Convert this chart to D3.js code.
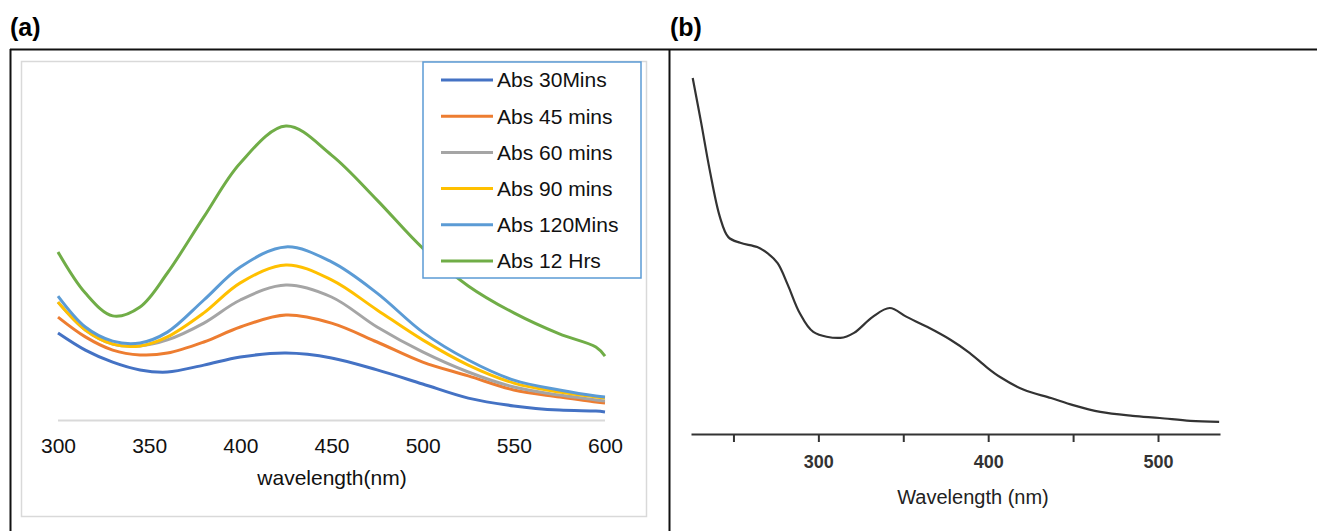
<!DOCTYPE html>
<html lang="en">
<head>
<meta charset="utf-8">
<style>
body { margin: 0; background: #fff; }
svg { display: block; font-family: "Liberation Sans", Arial, sans-serif; }
.axisA .domain { display: none; }
.axisA line { display: none; }
</style>
</head>
<body>
<svg width="1317" height="531"></svg>
<script src="https://d3js.org/d3.v7.min.js"></script>
<script>
// panel (a) data: absorbance vs wavelength for each reaction time
var wavelengthsA = [300, 315, 330, 345, 360, 380, 400, 425, 450, 475, 500, 525, 550, 575, 595, 600];
var abs30min  = [0.290, 0.233, 0.193, 0.167, 0.160, 0.183, 0.210, 0.223, 0.207, 0.167, 0.120, 0.073, 0.047, 0.033, 0.030, 0.027];
var abs45min  = [0.343, 0.277, 0.233, 0.217, 0.223, 0.260, 0.310, 0.350, 0.323, 0.260, 0.193, 0.147, 0.100, 0.077, 0.060, 0.057];
var abs60min  = [0.393, 0.300, 0.253, 0.247, 0.267, 0.323, 0.400, 0.450, 0.410, 0.310, 0.227, 0.160, 0.110, 0.083, 0.067, 0.063];
var abs90min  = [0.393, 0.300, 0.253, 0.247, 0.277, 0.357, 0.457, 0.517, 0.467, 0.367, 0.267, 0.183, 0.123, 0.093, 0.077, 0.073];
var abs120min = [0.413, 0.310, 0.263, 0.257, 0.293, 0.400, 0.510, 0.577, 0.527, 0.423, 0.293, 0.200, 0.133, 0.100, 0.080, 0.077];
var abs12hrs  = [0.560, 0.423, 0.347, 0.377, 0.490, 0.677, 0.857, 0.980, 0.883, 0.733, 0.573, 0.447, 0.357, 0.287, 0.243, 0.213];
var seriesNames = ["Abs 30Mins", "Abs 45 mins", "Abs 60 mins", "Abs 90 mins", "Abs 120Mins", "Abs 12 Hrs"];
var seriesColors = ["#4472c4", "#ed7d31", "#a5a5a5", "#ffc000", "#5b9bd5", "#70ad47"];
var ticksA = [300, 350, 400, 450, 500, 550, 600];

// panel (b) data
var wavelengthsB = [226, 231, 236, 242, 247, 254, 264, 270, 276, 282, 289, 297, 313, 321, 332, 342, 352, 364, 378, 389, 399, 407, 421, 437, 450, 466, 485, 501, 519, 536];
var absB = [1.000, 0.874, 0.742, 0.610, 0.553, 0.537, 0.525, 0.508, 0.480, 0.419, 0.340, 0.287, 0.270, 0.284, 0.329, 0.354, 0.329, 0.301, 0.264, 0.228, 0.188, 0.160, 0.124, 0.101, 0.081, 0.062, 0.051, 0.045, 0.037, 0.034];
var majorTicksB = [300, 400, 500];
var allTicksB = [250, 300, 350, 400, 450, 500];

var svg = d3.select("svg");

// frame lines
svg.append("line").attr("x1", 10).attr("x2", 1317).attr("y1", 49.5).attr("y2", 49.5)
  .attr("stroke", "#111").attr("stroke-width", 2);
svg.append("line").attr("x1", 10.5).attr("x2", 10.5).attr("y1", 49).attr("y2", 531)
  .attr("stroke", "#111").attr("stroke-width", 2);
svg.append("line").attr("x1", 669.5).attr("x2", 669.5).attr("y1", 49).attr("y2", 531)
  .attr("stroke", "#111").attr("stroke-width", 2);

svg.append("text").attr("x", 10).attr("y", 36).attr("font-size", 25).attr("font-weight", "bold").text("(a)");
svg.append("text").attr("x", 670).attr("y", 36).attr("font-size", 25).attr("font-weight", "bold").text("(b)");

// ---- panel (a) ----
svg.append("rect").attr("x", 21.5).attr("y", 61.5).attr("width", 625).attr("height", 455)
  .attr("fill", "#fff").attr("stroke", "#d9d9d9").attr("stroke-width", 1.5);

var xA = d3.scaleLinear().domain([300, 600]).range([58, 605]);
var yA = d3.scaleLinear().domain([0, 1]).range([420, 120]);

svg.append("line").attr("x1", xA(300)).attr("x2", xA(600)).attr("y1", 420.5).attr("y2", 420.5)
  .attr("stroke", "#d9d9d9").attr("stroke-width", 2);

var gxA = svg.append("g").attr("class", "axisA")
  .attr("transform", "translate(0,420)")
  .call(d3.axisBottom(xA).tickValues(ticksA).tickSize(0).tickPadding(18).tickFormat(d3.format("d")));
gxA.selectAll("text").attr("font-size", 21).attr("fill", "#111").attr("font-family", "Liberation Sans, Arial, sans-serif");

svg.append("text").attr("x", 332).attr("y", 485).attr("text-anchor", "middle")
  .attr("font-size", 21).attr("fill", "#111").text("wavelength(nm)");

var allA = [abs30min, abs45min, abs60min, abs90min, abs120min, abs12hrs];
var lineA = d3.line()
  .x(function(d, i) { return xA(wavelengthsA[i]); })
  .y(function(d) { return yA(d); })
  .curve(d3.curveCatmullRom.alpha(0.5));

svg.append("g").selectAll("path")
  .data(allA)
  .enter().append("path")
    .attr("d", lineA)
    .attr("fill", "none")
    .attr("stroke", function(d, i) { return seriesColors[i]; })
    .attr("stroke-width", 3);

// legend
var legend = svg.append("g");
legend.append("rect").attr("x", 423).attr("y", 62).attr("width", 218).attr("height", 216)
  .attr("fill", "#fff").attr("stroke", "#5b9bd5").attr("stroke-width", 1.5);
var items = legend.selectAll("g.item")
  .data(seriesNames)
  .enter().append("g")
    .attr("class", "item")
    .attr("transform", function(d, i) { return "translate(0," + (80 + i * 36.2) + ")"; });
items.append("line").attr("x1", 441).attr("x2", 493).attr("y1", 0).attr("y2", 0)
  .attr("stroke", function(d, i) { return seriesColors[i]; }).attr("stroke-width", 3);
items.append("text").attr("x", 497).attr("y", 0).attr("dy", "0.35em")
  .attr("font-size", 21).attr("fill", "#111").text(function(d) { return d; });

// ---- panel (b) ----
var xB = d3.scaleLinear().domain([225, 536.5]).range([691, 1220]);
var yB = d3.scaleLinear().domain([0, 1]).range([434, 78]);

var gxB = svg.append("g")
  .attr("transform", "translate(0,434)")
  .call(d3.axisBottom(xB).tickValues(allTicksB).tickSizeInner(8).tickSizeOuter(0).tickPadding(13)
    .tickFormat(function(d) { return majorTicksB.indexOf(d) >= 0 ? d : ""; }));
gxB.select(".domain").attr("stroke", "#333").attr("stroke-width", 2.2);
gxB.selectAll(".tick line").attr("stroke", "#333").attr("stroke-width", 2);
gxB.selectAll("text").attr("font-size", 18).attr("font-weight", "bold").attr("fill", "#333")
  .attr("font-family", "Liberation Sans, Arial, sans-serif");

svg.append("text").attr("x", 973).attr("y", 504).attr("text-anchor", "middle")
  .attr("font-size", 20).attr("fill", "#222").text("Wavelength (nm)");

var lineB = d3.line()
  .x(function(d, i) { return xB(wavelengthsB[i]); })
  .y(function(d) { return yB(d); })
  .curve(d3.curveCatmullRom.alpha(0.5));

svg.append("path").datum(absB)
  .attr("d", lineB)
  .attr("fill", "none")
  .attr("stroke", "#333")
  .attr("stroke-width", 2.2);
</script>
</body>
</html>
